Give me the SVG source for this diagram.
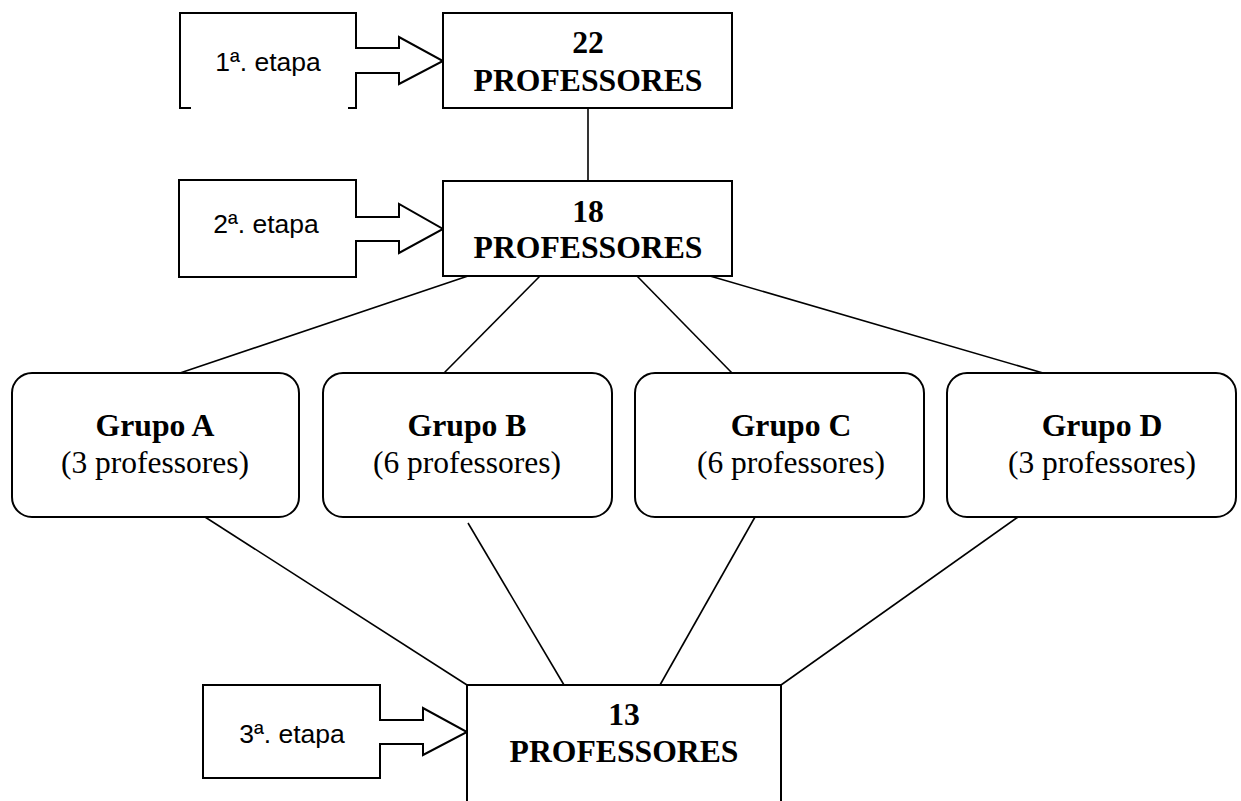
<svg xmlns="http://www.w3.org/2000/svg" width="1241" height="801" viewBox="0 0 1241 801">
<style>
.box{fill:#fff;stroke:#000;stroke-width:2}
.open{fill:none;stroke:#000;stroke-width:2}
.con{stroke:#000;stroke-width:1.6;fill:none}
.b{font-family:"Liberation Serif","Times New Roman",serif;font-weight:bold;font-size:31.7px;text-anchor:middle}
.r{font-family:"Liberation Serif","Times New Roman",serif;font-size:31.5px;text-anchor:middle}
.e{font-family:"Liberation Sans",Arial,sans-serif;font-size:26.5px;text-anchor:middle}
</style>
<rect width="1241" height="801" fill="#fff"/>
<g id="connectors">
<line class="con" x1="588" y1="108" x2="588" y2="181"/>
<line class="con" x1="468" y1="276" x2="180" y2="373"/>
<line class="con" x1="540" y1="276" x2="444" y2="373"/>
<line class="con" x1="637" y1="276" x2="732" y2="373"/>
<line class="con" x1="710" y1="276" x2="1043" y2="373"/>
<line class="con" x1="205" y1="517" x2="467" y2="685"/>
<line class="con" x1="468" y1="523" x2="564" y2="685"/>
<line class="con" x1="755" y1="517" x2="660" y2="685"/>
<line class="con" x1="1018" y1="517" x2="781" y2="685"/>
</g>
<g id="etapa1">
<path class="open" d="M191,108 H180 V13 H356 V48 H399 V37 L443,61 L399,84 V73 H356 V108 H348"/>
<text class="e" x="268" y="71">1ª. etapa</text>
</g>
<g id="etapa2">
<path class="box" d="M179,180 H356 V217 H399 V204 L443,229 L399,253 V241 H356 V277 H179 Z"/>
<text class="e" x="266" y="233">2ª. etapa</text>
</g>
<g id="etapa3">
<path class="box" d="M203,685 H380 V720 H423 V708 L467,732 L423,755 V744 H380 V778 H203 Z"/>
<text class="e" x="292" y="743">3ª. etapa</text>
</g>
<g id="p22">
<rect class="box" x="443" y="13" width="289" height="95"/>
<text class="b" x="588" y="53">22</text>
<text class="b" x="588" y="91">PROFESSORES</text>
</g>
<g id="p18">
<rect class="box" x="443" y="181" width="289" height="95"/>
<text class="b" x="588" y="222">18</text>
<text class="b" x="588" y="258">PROFESSORES</text>
</g>
<g id="grupoA">
<rect class="box" x="12" y="373" width="287" height="144" rx="20" ry="20"/>
<text class="b" x="155" y="436">Grupo A</text>
<text class="r" x="155" y="473">(3 professores)</text>
</g>
<g id="grupoB">
<rect class="box" x="323" y="373" width="289" height="144" rx="20" ry="20"/>
<text class="b" x="467" y="436">Grupo B</text>
<text class="r" x="467" y="473">(6 professores)</text>
</g>
<g id="grupoC">
<rect class="box" x="635" y="373" width="289" height="144" rx="20" ry="20"/>
<text class="b" x="791" y="436">Grupo C</text>
<text class="r" x="791" y="473">(6 professores)</text>
</g>
<g id="grupoD">
<rect class="box" x="947" y="373" width="289" height="144" rx="20" ry="20"/>
<text class="b" x="1102" y="436">Grupo D</text>
<text class="r" x="1102" y="473">(3 professores)</text>
</g>
<g id="p13">
<path class="box" d="M467,815 V685 H781 V815"/>
<text class="b" x="624" y="725">13</text>
<text class="b" x="624" y="762">PROFESSORES</text>
</g>
</svg>
